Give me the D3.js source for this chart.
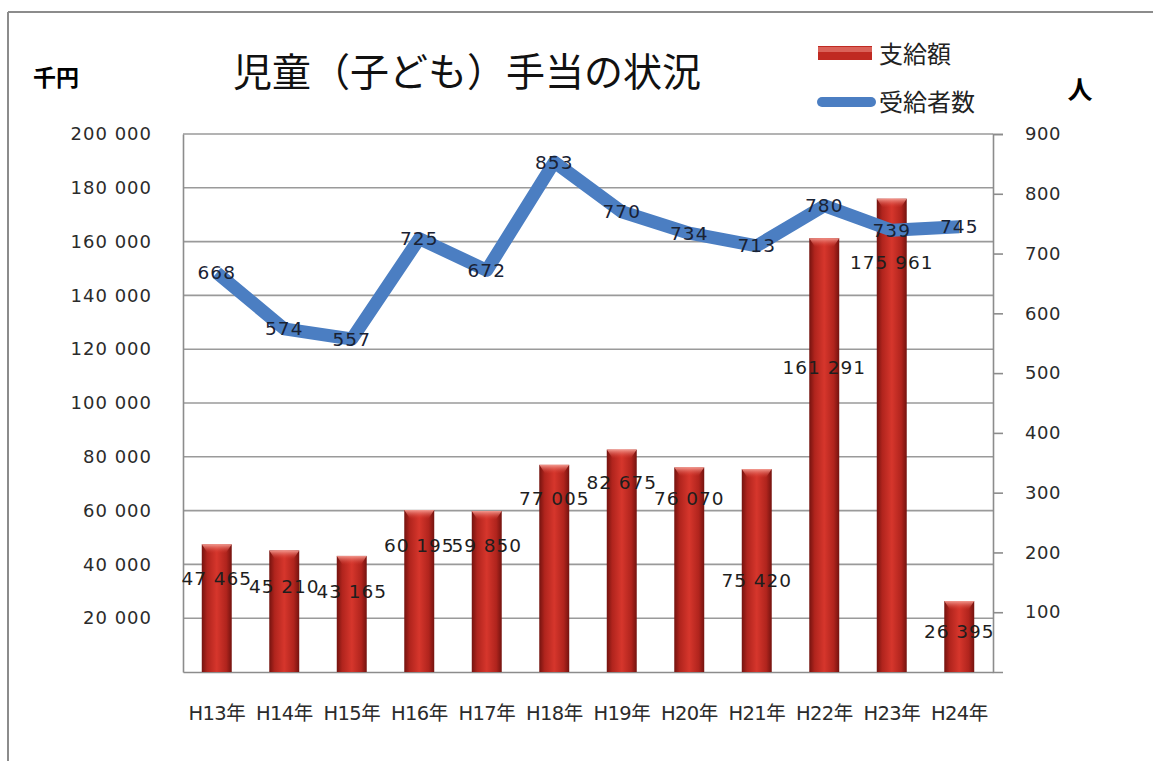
<!DOCTYPE html>
<html>
<head>
<meta charset="utf-8">
<script src="https://cdn.jsdelivr.net/npm/d3@7"></script>
<style>
    body { margin: 0; background: #fff; }
    svg text { font-family: "DejaVu Sans", "Noto Sans CJK JP", sans-serif; }
</style>
</head>
<body>
<script>
// chart values
var years = ['H13年', 'H14年', 'H15年', 'H16年', 'H17年', 'H18年', 'H19年', 'H20年', 'H21年', 'H22年', 'H23年', 'H24年'];
var amounts = [47465, 45210, 43165, 60195, 59850, 77005, 82675, 76070, 75420, 161291, 175961, 26395];   // 支給額 (千円)
var recipients = [668, 574, 557, 725, 672, 853, 770, 734, 713, 780, 739, 745];                          // 受給者数 (人)
var leftTicks = [20000, 40000, 60000, 80000, 100000, 120000, 140000, 160000, 180000, 200000];
var rightTicks = [100, 200, 300, 400, 500, 600, 700, 800, 900];

function chartMain() {
    var w = 1153, h = 761;
    var margin = {top: 134, left: 183, right: 160, bottom: 89};
    var width = w - margin.left - margin.right;
    var height = h - margin.top - margin.bottom;

    // where each bar's value label sits, px below the bar top (hand placed in the original)
    var labelDrop = [34, 36, 36, 35, 35, 34, 33, 31, 111, 129, 64, 31];

    var svg = d3.select("body").append("svg")
        .attr("width", w)
        .attr("height", h);

    var defs = svg.append("defs");
    var barGrad = defs.append("linearGradient").attr("id", "barGrad")
        .attr("x1", "0%").attr("x2", "100%").attr("y1", "0%").attr("y2", "0%");
    [[0, "#74130f"], [0.18, "#b0241d"], [0.5, "#d6362c"], [0.82, "#b0241d"], [1, "#74130f"]].forEach(function (s) {
        barGrad.append("stop").attr("offset", s[0]).attr("stop-color", s[1]);
    });
    var capGrad = defs.append("linearGradient").attr("id", "capGrad")
        .attr("x1", "0%").attr("x2", "0%").attr("y1", "0%").attr("y2", "100%");
    capGrad.append("stop").attr("offset", 0).attr("stop-color", "#f29a90");
    capGrad.append("stop").attr("offset", 1).attr("stop-color", "#d8372d").attr("stop-opacity", 0);

    // outer frame (only top and left edges show)
    svg.append("line").attr("x1", 8).attr("x2", w).attr("y1", 12).attr("y2", 12)
        .attr("stroke", "#8c8c8c").attr("stroke-width", 2);
    svg.append("line").attr("x1", 8).attr("x2", 8).attr("y1", 12).attr("y2", h)
        .attr("stroke", "#8c8c8c").attr("stroke-width", 2);

    var chart = svg.append("g")
        .attr("transform", "translate(" + margin.left + "," + margin.top + ")");

    var x = d3.scaleBand()
        .domain(years)
        .range([0, width])
        .paddingInner(0.556)
        .paddingOuter(0.278);
    var yL = d3.scaleLinear().domain([0, 200000]).range([height, 0]);
    var yR = d3.scaleLinear().domain([0, 900]).range([height, 0]);

    var fmt = function (v) { return d3.format(",")(v).replace(/,/g, " "); };

    // gridlines
    chart.append("g").selectAll("line")
        .data(leftTicks)
        .enter().append("line")
        .attr("x1", 0).attr("x2", width)
        .attr("y1", function (d) { return yL(d); })
        .attr("y2", function (d) { return yL(d); })
        .attr("stroke", "#9a9a9a").attr("stroke-width", 1.6);

    // axes
    var axisL = chart.append("g")
        .call(d3.axisLeft(yL).tickValues(leftTicks).tickSize(0).tickPadding(31).tickFormat(fmt));
    var axisR = chart.append("g")
        .attr("transform", "translate(" + width + ",0)")
        .call(d3.axisRight(yR).tickValues(rightTicks).tickSize(10).tickPadding(22));
    var axisB = chart.append("g")
        .attr("transform", "translate(0," + height + ")")
        .call(d3.axisBottom(x).tickSize(0).tickPadding(34));

    [axisL, axisR, axisB].forEach(function (a) {
        a.select(".domain").attr("stroke", "#8c8c8c").attr("stroke-width", 1.6);
        a.selectAll(".tick line").attr("stroke", "#8c8c8c").attr("stroke-width", 1.6);
        a.selectAll("text").attr("fill", "#2b2b2b")
            .style("font-family", '"DejaVu Sans", "Noto Sans CJK JP", sans-serif');
    });
    axisL.selectAll("text").style("font-size", "18px").attr("letter-spacing", "1");
    axisR.selectAll("text").style("font-size", "18px").attr("letter-spacing", "0.6");
    axisB.selectAll("text").style("font-size", "19.5px").attr("letter-spacing", "-0.6");

    // bars
    var bars = chart.append("g").selectAll("g")
        .data(amounts)
        .enter().append("g");
    bars.append("rect")
        .attr("x", function (d, i) { return x(years[i]); })
        .attr("y", function (d) { return yL(d); })
        .attr("width", x.bandwidth())
        .attr("height", function (d) { return height - yL(d); })
        .attr("fill", "url(#barGrad)");
    bars.append("path")
        .attr("d", function (d, i) {
            var x0 = x(years[i]), x1 = x0 + x.bandwidth(), y0 = yL(d);
            return "M" + x0 + "," + y0 + "L" + x1 + "," + y0 + "L" + (x1 - 6) + "," + (y0 + 9) +
                "L" + (x0 + 6) + "," + (y0 + 9) + "Z";
        })
        .attr("fill", "url(#capGrad)");

    // 受給者数 line
    var trendline = d3.line()
        .x(function (d, i) { return x(years[i]) + x.bandwidth() / 2; })
        .y(function (d) { return yR(d); });
    chart.append("path")
        .datum(recipients)
        .attr("d", trendline)
        .attr("fill", "none")
        .attr("stroke", "#4b7ec2")
        .attr("stroke-width", 13)
        .attr("stroke-linejoin", "round");

    // value labels
    chart.append("g").selectAll("text")
        .data(amounts)
        .enter().append("text")
        .attr("x", function (d, i) { return x(years[i]) + x.bandwidth() / 2; })
        .attr("y", function (d, i) { return yL(d) + labelDrop[i]; })
        .attr("dy", "0.35em")
        .attr("text-anchor", "middle")
        .attr("letter-spacing", "1")
        .style("font-size", "18.5px")
        .attr("fill", "#1e1e1e")
        .text(fmt);
    chart.append("g").selectAll("text")
        .data(recipients)
        .enter().append("text")
        .attr("x", function (d, i) { return x(years[i]) + x.bandwidth() / 2; })
        .attr("y", function (d) { return yR(d); })
        .attr("dy", "0.35em")
        .attr("text-anchor", "middle")
        .attr("letter-spacing", "1")
        .style("font-size", "18.5px")
        .attr("fill", "#1a2233")
        .text(function (d) { return d; });

    // title and unit labels
    svg.append("text")
        .attr("x", 467).attr("y", 72).attr("dy", "0.35em")
        .attr("text-anchor", "middle")
        .style("font-family", '"Noto Sans CJK JP", sans-serif')
        .style("font-size", "39px")
        .attr("fill", "#111")
        .text("児童（子ども）手当の状況");
    svg.append("text")
        .attr("x", 56).attr("y", 78).attr("dy", "0.35em")
        .attr("text-anchor", "middle")
        .style("font-family", '"Noto Sans CJK JP", sans-serif')
        .style("font-size", "23px").style("font-weight", "bold")
        .text("千円");
    svg.append("text")
        .attr("x", 1080).attr("y", 90).attr("dy", "0.35em")
        .attr("text-anchor", "middle")
        .style("font-family", '"Noto Sans CJK JP", sans-serif')
        .style("font-size", "25px").style("font-weight", "bold")
        .text("人");

    // legend
    var legend = svg.append("g");
    legend.append("rect")
        .attr("x", 818).attr("y", 46).attr("width", 54).attr("height", 14)
        .attr("fill", "#c02a22");
    legend.append("rect")
        .attr("x", 818).attr("y", 47).attr("width", 54).attr("height", 5)
        .attr("fill", "#e07068").attr("opacity", 0.8);
    legend.append("line")
        .attr("x1", 822).attr("x2", 871).attr("y1", 102).attr("y2", 102)
        .attr("stroke", "#4b7ec2").attr("stroke-width", 10).attr("stroke-linecap", "round");
    legend.selectAll("text.lg")
        .data(["支給額", "受給者数"])
        .enter().append("text")
        .attr("x", 879)
        .attr("y", function (d, i) { return 55 + i * 48; })
        .attr("dy", "0.35em")
        .style("font-family", '"Noto Sans CJK JP", sans-serif')
        .style("font-size", "24px")
        .attr("fill", "#222")
        .text(function (d) { return d; });
}

chartMain();
</script>
</body>
</html>
